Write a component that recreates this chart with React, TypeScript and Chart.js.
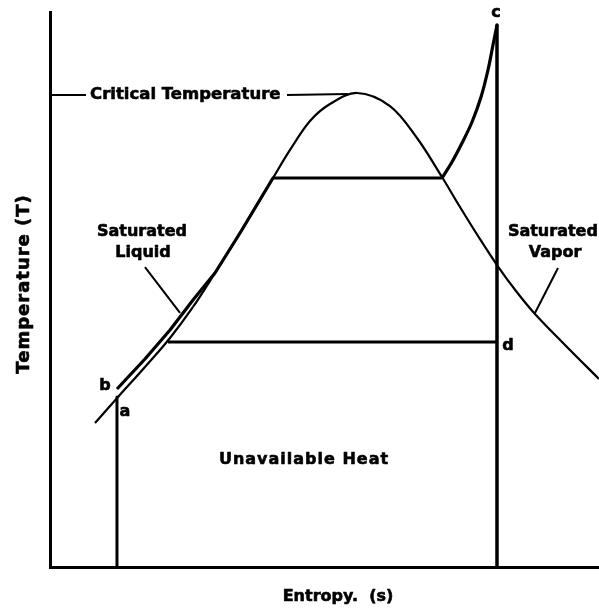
import React, { useEffect, useRef } from "react";
import { Chart, registerables } from "chart.js";

Chart.register(...registerables);

// Saturation dome (entropy, temperature) in relative units 0..100
const domeS = [8.2, 12.39, 17.3, 21.86, 26.05, 30.05, 34.61, 40.62, 43.72, 47.36, 51.0, 55.92, 61.93, 66.85, 71.4, 74.68, 77.96, 81.42, 84.88, 88.34, 93.81, 100];
const domeT = [25.95, 30.63, 36.04, 41.26, 46.85, 52.97, 60.18, 70.09, 75.14, 80.36, 83.42, 85.41, 83.06, 77.3, 70.27, 64.86, 59.64, 54.41, 49.73, 45.59, 40.0, 33.87];

// b -> liquid heating -> boiling
const heatS = [12.2, 17.3, 21.86, 26.05, 30.05, 34.61, 40.62, 71.4];
const heatT = [32.07, 37.48, 42.7, 48.11, 52.97, 60.18, 70.09, 70.09];

// superheating up to c
const superS = [71.4, 73.22, 75.05, 76.87, 78.51, 79.78, 80.69, 81.42];
const superT = [70.09, 72.97, 76.4, 80.18, 84.68, 89.55, 94.05, 97.66];

// c -> d -> axis (isentropic expansion line)
const expandS = [81.42, 81.42];
const expandT = [97.66, 0];

// d -> condensation line
const condS = [81.42, 21.5];
const condT = [40.54, 40.54];

// a vertical line
const aS = [12.2, 12.2];
const aT = [30.63, 0];

// critical temperature leader lines
const critTickS = [0, 6.56];
const critTickT = [85.05, 85.05];
const critLineS = [43.17, 54.28];
const critLineT = [85.05, 85.23];

// pointer lines
const liqPtrS = [17.3, 23.68];
const liqPtrT = [54.05, 45.77];
const vapPtrS = [92.53, 88.34];
const vapPtrT = [53.87, 45.77];

// text labels
const labelTexts = ["Critical Temperature", "Saturated", "Liquid", "Saturated", "Vapor", "b", "a", "c", "d", "Unavailable Heat"];
const labelS = [7.29, 16.76, 16.94, 91.6, 91.99, 10.02, 13.66, 81.24, 83.42, 46.27];
const labelT = [85.05, 60.36, 56.58, 60.36, 56.58, 32.61, 27.93, 99.8, 39.82, 19.28];
const labelAlign = ["left", "center", "center", "center", "center", "center", "center", "center", "center", "center"];
const labelSize = [16.5, 16, 16, 16, 16, 16, 16, 16, 16, 16];
const labelSpacing = [0, 0, 0, 0, 0, 0, 0, 0, 0, 1];

const xTitle = "Entropy.  (s)";
const yTitle = "Temperature (T)";

const zip = (xs: number[], ys: number[]) => xs.map((x, i) => ({ x, y: ys[i] }));

const FONT = '"DejaVu Sans", "Liberation Sans", sans-serif';

const heavyText = (ctx: any, t: string, x: number, y: number) => {
  ctx.fillText(t, x, y);
  ctx.strokeText(t, x, y);
};

const labelPlugin = {
  id: "tsLabels",
  afterDatasetsDraw(chart: any) {
    const { ctx, scales, chartArea } = chart;
    const xs = scales.x;
    const ys = scales.y;
    ctx.save();
    ctx.fillStyle = "#000";
    ctx.strokeStyle = "#000";
    ctx.lineWidth = 0.6;
    ctx.lineJoin = "round";
    ctx.textBaseline = "middle";
    labelTexts.forEach((t, i) => {
      ctx.font = `bold ${labelSize[i]}px ${FONT}`;
      ctx.textAlign = labelAlign[i];
      ctx.letterSpacing = `${labelSpacing[i]}px`;
      heavyText(ctx, t, xs.getPixelForValue(labelS[i]), ys.getPixelForValue(labelT[i]));
    });
    // axis titles
    ctx.letterSpacing = "0px";
    ctx.font = `bold 16px ${FONT}`;
    ctx.textAlign = "center";
    heavyText(ctx, xTitle, xs.getPixelForValue(52.46), chartArea.bottom + 30);
    ctx.save();
    ctx.translate(chartArea.left - 26, ys.getPixelForValue(51));
    ctx.rotate(-Math.PI / 2);
    ctx.font = `bold 18px ${FONT}`;
    ctx.letterSpacing = "1px";
    heavyText(ctx, yTitle, 0, 0);
    ctx.restore();
    ctx.restore();
  },
};

export default function App() {
  const ref = useRef<HTMLCanvasElement | null>(null);
  useEffect(() => {
    if (!ref.current) return;
    const line = (data: any[], width: number, extra: any = {}) => ({
      data,
      borderColor: "#000",
      backgroundColor: "#000",
      borderWidth: width,
      pointRadius: 0,
      showLine: true,
      fill: false,
      tension: 0,
      borderJoinStyle: "round",
      ...extra,
    });
    const chart = new Chart(ref.current, {
      type: "scatter",
      data: {
        datasets: [
          line(zip(domeS, domeT), 2.2, { tension: 0.35 }),
          line(zip(heatS, heatT), 3.2),
          line(zip(superS, superT), 3.2, { tension: 0.35 }),
          line(zip(expandS, expandT), 3.5),
          line(zip(condS, condT), 3),
          line(zip(aS, aT), 3),
          line(zip(critTickS, critTickT), 2),
          line(zip(critLineS, critLineT), 2),
          line(zip(liqPtrS, liqPtrT), 2),
          line(zip(vapPtrS, vapPtrT), 2),
        ] as any,
      },
      options: {
        animation: false,
        responsive: false,
        layout: { padding: { left: 50, top: 12, right: 0, bottom: 45 } },
        plugins: { legend: { display: false }, tooltip: { enabled: false } },
        scales: {
          x: {
            type: "linear",
            min: 0,
            max: 100,
            ticks: { display: false },
            grid: { display: false, drawTicks: false },
            border: { display: true, width: 3, color: "#000" },
          },
          y: {
            type: "linear",
            min: 0,
            max: 100,
            ticks: { display: false },
            grid: { display: false, drawTicks: false },
            border: { display: true, width: 3, color: "#000" },
          },
        },
      } as any,
      plugins: [labelPlugin],
    });
    return () => chart.destroy();
  }, []);
  return (
    <div style={{ position: "fixed", left: 0, top: 0, width: 599, height: 612, background: "#fff" }}>
      <canvas ref={ref} width={599} height={612} style={{ display: "block" }} />
    </div>
  );
}
